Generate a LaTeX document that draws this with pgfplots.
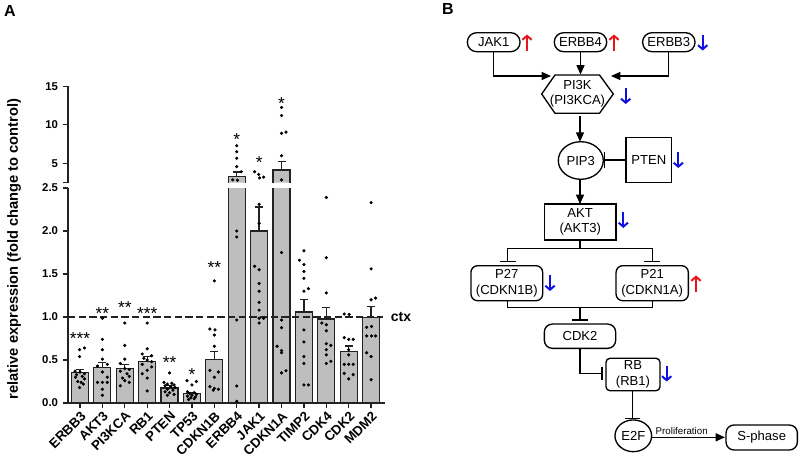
\documentclass[border=0pt]{standalone}
\usepackage{fontspec}
\setmainfont{Liberation Sans}
\usepackage{pgfplots}
\pgfplotsset{compat=1.18}
\usepackage{pgfplotstable}
\usetikzlibrary{arrows.meta,shapes.geometric}
\definecolor{barfill}{HTML}{BEBEBE}
\definecolor{axisgray}{HTML}{222222}
\definecolor{upred}{HTML}{E8141B}
\definecolor{downblue}{HTML}{1010E0}

% bar means and upper SEM
\pgfplotstableread{
x y err
0 0.357 0.035
1 0.415 0.058
2 0.400 0.050
3 0.480 0.058
4 0.174 0.030
5 0.109 0.016
6 0.510 0.090
7 3.320 0.550
8 2.000 0.280
9 4.130 1.070
10 1.058 0.147
11 0.977 0.135
12 0.597 0.065
13 0.996 0.125
}\bars

% single samples
\pgfplotstableread{
x y
-0.02 0.62
0.20 0.64
-0.02 0.54
-0.22 0.37
0.00 0.36
0.20 0.34
-0.15 0.33
0.10 0.31
-0.20 0.30
0.20 0.28
-0.10 0.25
0.05 0.24
-0.02 0.18
0.15 0.22
1.00 0.985
1.00 0.74
1.00 0.62
1.00 0.51
0.78 0.43
1.22 0.45
1.00 0.36
1.22 0.30
0.78 0.24
1.00 0.24
1.22 0.24
1.00 0.16
1.00 0.09
2.00 0.93
2.00 0.67
2.00 0.51
1.80 0.46
2.00 0.40
2.20 0.39
1.80 0.37
2.10 0.34
2.20 0.31
1.90 0.29
2.00 0.26
2.20 0.24
1.80 0.20
3.00 0.93
3.00 0.63
2.78 0.57
3.20 0.55
2.85 0.52
3.00 0.50
3.20 0.48
2.78 0.45
3.20 0.42
3.00 0.38
2.78 0.34
3.00 0.29
3.00 0.14
4.00 0.35
3.75 0.24
4.10 0.23
3.90 0.22
4.20 0.21
3.80 0.20
4.05 0.19
4.25 0.18
3.90 0.16
4.15 0.15
3.80 0.13
4.00 0.12
4.20 0.10
3.90 0.09
4.78 0.26
5.20 0.25
5.00 0.21
4.80 0.13
5.10 0.12
4.90 0.11
5.20 0.10
5.00 0.09
4.80 0.08
5.15 0.07
4.95 0.06
5.10 0.05
4.85 0.04
6.00 1.42
5.80 0.86
6.03 0.85
6.00 0.79
6.00 0.66
5.80 0.38
6.18 0.36
6.00 0.30
5.80 0.19
6.00 0.17
6.18 0.16
5.95 0.15
7.00 7.28
7.00 6.50
7.00 5.65
7.00 4.56
7.20 3.90
6.82 2.85
7.03 2.80
7.00 2.00
7.00 1.93
7.00 0.965
7.00 0.198
7.00 0.02
7.80 3.90
7.98 3.55
8.02 3.10
8.20 3.20
8.00 2.31
8.00 2.09
7.80 1.59
8.00 1.55
8.00 1.39
8.00 1.30
8.00 1.17
8.00 1.08
8.00 0.985
8.20 0.985
8.00 0.93
9.00 12.25
9.00 11.20
9.20 9.05
9.00 8.89
9.00 5.98
9.00 2.84
9.00 1.75
9.00 0.965
9.00 0.876
8.80 0.66
9.00 0.61
9.00 0.585
9.00 0.35
9.20 0.375
10.00 1.77
9.80 1.66
10.00 1.61
10.00 1.53
10.00 1.45
10.00 1.30
10.20 1.33
10.00 0.85
10.00 0.71
10.00 0.54
10.00 0.46
10.00 0.21
10.20 0.21
11.00 2.39
11.00 1.69
11.00 1.28
10.80 0.93
11.00 0.91
11.00 0.84
11.00 0.69
11.20 0.67
11.00 0.62
11.00 0.56
11.20 0.485
11.00 0.46
11.80 1.035
12.02 1.03
11.80 0.76
12.00 0.74
12.20 0.74
12.00 0.62
12.00 0.56
11.80 0.45
12.00 0.45
12.20 0.45
11.80 0.345
12.20 0.33
12.00 0.28
13.00 2.33
13.00 1.56
13.00 1.20
13.20 1.22
12.80 0.88
13.02 0.89
12.80 0.78
13.02 0.78
13.20 0.78
12.80 0.585
13.00 0.54
13.00 0.27
}\pts

\tikzset{starnode/.style={font=\fontsize{13}{13}\selectfont, inner sep=0pt}}
\pgfplotsset{
  barpanel/.style={
    scale only axis, width=237.75pt,
    xmin=-0.536, xmax=13.62,
    axis y line*=left,
    tick align=outside,
    every tick/.style={axisgray, line width=1pt},
    axis line style={axisgray, line width=1.1pt},
    major tick length=4pt,
    tick label style={font=\bfseries\fontsize{8.5}{9}\selectfont},
    /pgf/number format/assume math mode=true,
    clip mode=individual,
  },
  errs/.style={draw=none, mark=none, forget plot,
    error bars/.cd, y dir=plus, y explicit,
    error bar style={draw=axisgray, line width=1pt, solid},
    error mark options={rotate=90, mark size=3pt, line width=1pt, draw=axisgray}},
}
\newcommand\upar[2]{\draw[upred, line width=1.5pt, -{Straight Barb[length=3pt,width=7pt]}] (#1,#2+8) -- (#1,#2-8);}
\newcommand\downar[2]{\draw[downblue, line width=1.5pt, -{Straight Barb[length=3pt,width=7pt]}] (#1,#2-8) -- (#1,#2+8);}

\begin{document}
\begin{tikzpicture}
% ---- panel A, lower part 0-2.5
\begin{axis}[barpanel,
  at={(51pt,-302.25pt)}, anchor=south west, height=161.25pt,
  ymin=0, ymax=2.5,
  axis x line*=bottom,
  ytick={0,0.5,...,2.5},
  yticklabel style={/pgf/number format/.cd, fixed, fixed zerofill, precision=1},
  xtick={0,...,13},
  xticklabels={ERBB3,AKT3,PI3KCA,RB1,PTEN,TP53,CDKN1B,ERBB4,JAK1,CDKN1A,TIMP2,CDK4,CDK2,MDM2},
  x tick label style={rotate=45, anchor=north east, inner sep=1pt, font=\bfseries\fontsize{10}{11}\selectfont},
]
\addplot[ybar, bar width=0.759, fill=barfill, draw=axisgray, line width=0.9pt] table[x=x,y=y] {\bars};
\addplot[errs] table[x=x, y=y, y error=err] {\bars};
\addplot[axisgray, line width=1.1pt, dash pattern=on 5.5pt off 2.5pt] coordinates {(-0.536,1) (13.53,1)};
\addplot[only marks, mark=*, mark size=1pt, black] table[x=x,y=y] {\pts};
\node[starnode] at (axis cs:0,0.745) {***};
\node[starnode] at (axis cs:1,1.035) {**};
\node[starnode] at (axis cs:2,1.105) {**};
\node[starnode] at (axis cs:3,1.035) {***};
\node[starnode] at (axis cs:4,0.475) {**};
\node[starnode] at (axis cs:5,0.335) {*};
\node[starnode] at (axis cs:6,1.575) {**};
\end{axis}
% ---- panel A, upper part 2.5-15
\begin{axis}[barpanel,
  at={(51pt,-136.875pt)}, anchor=south west, height=72.15pt,
  ymin=2.5, ymax=15,
  axis x line=none,
  ytick={2.5,5,10,15}, yticklabels={,5,10,15},
]
\addplot[ybar, bar width=0.759, fill=barfill, draw=none, restrict y to domain=2.5:100] table[x=x,y=y] {\bars};
% outlines of the two bars that pass the axis break (no bottom edge)
\addplot[axisgray, line width=0.9pt] coordinates {(6.62,2.3) (6.62,3.32) (7.38,3.32) (7.38,2.3)};
\addplot[axisgray, line width=0.9pt] coordinates {(8.62,2.3) (8.62,4.13) (9.38,4.13) (9.38,2.3)};
\addplot[restrict y to domain=2.5:100, errs] table[x=x, y=y, y error=err] {\bars};
\addplot[only marks, mark=*, mark size=1pt, black, restrict y to domain=2.5:100] table[x=x,y=y] {\pts};
\node[starnode] at (axis cs:7,8.04) {*};
\node[starnode] at (axis cs:8,5.06) {*};
\node[starnode] at (axis cs:9,12.7) {*};
\end{axis}

\begin{scope}[x=0.75pt, y=-0.75pt]
\path[use as bounding box] (0,0) rectangle (800,455);
\node[font=\bfseries\fontsize{12}{12}\selectfont] at (10,11) {A};
\node[font=\bfseries\fontsize{12}{12}\selectfont] at (448,9) {B};
\node[rotate=90, font=\bfseries\fontsize{11}{12}\selectfont] at (14,249) {relative expression (fold change to control)};
\node[font=\bfseries\fontsize{10.5}{11}\selectfont] at (401,317) {ctx};

% ---- panel B
\begin{scope}[font=\fontsize{9.8}{11.6}\selectfont, line width=1pt,
  box/.style={draw, inner sep=0pt, align=center},
  act/.style={-{Triangle[length=7pt,width=6pt]}},
  inh/.style={-{Bar[width=12pt]}}]
\node[box, rounded corners=7pt, minimum width=39.5pt, minimum height=14.25pt] at (493.7,42.2) {JAK1};
\node[box, rounded corners=7pt, minimum width=39.3pt, minimum height=14.25pt] at (580.5,42.2) {ERBB4};
\node[box, rounded corners=7pt, minimum width=39.3pt, minimum height=14.25pt] at (668.8,42.2) {ERBB3};
\draw (541.7,94) -- (555,75) -- (599.5,75) -- (613.3,94) -- (599.5,113.3) -- (555,113.3) -- cycle;
\node[align=center, inner sep=0pt] at (577.5,94) {PI3K\\(PI3KCA)};
\node[box, ellipse, minimum width=33.75pt, minimum height=28.2pt] (pip) at (580.8,160.5) {PIP3};
\node[box, minimum width=34.3pt, minimum height=34pt] at (648.8,160) {PTEN};
\node[box, minimum width=53.8pt, minimum height=27pt] at (580.2,222) {AKT\\(AKT3)};
\node[box, rounded corners=5pt, minimum width=53.8pt, minimum height=26.25pt] at (506.8,283.2) {P27\\(CDKN1B)};
\node[box, rounded corners=5pt, minimum width=54.2pt, minimum height=26.25pt] at (652.2,283.2) {P21\\(CDKN1A)};
\node[box, rounded corners=6pt, minimum width=53.5pt, minimum height=18.2pt] at (580,336.2) {CDK2};
\node[box, rounded corners=3pt, minimum width=40.5pt, minimum height=24.3pt] at (633,374.5) {RB\\(RB1)};
\node[box, ellipse, minimum width=27.5pt, minimum height=23.8pt] at (633.3,435.8) {E2F};
\node[box, rounded corners=6pt, minimum width=53.5pt, minimum height=18.75pt] at (761.7,437.5) {S-phase};

\draw[act] (493.3,51.7) -- (493.3,76) -- (551,76);
\draw[act] (580.5,51.7) -- (580.5,74.5);
\draw[act] (668.8,51.7) -- (668.8,76) -- (611,76);
\draw[act] (580,116) -- (580,141.7);
\draw[inh] (626,160) -- (604,160);
\draw[act] (580,179.3) -- (580,204);
\draw (580,240) -- (580,248.3);
\draw (507.7,248.3) -- (652.3,248.3);
\draw[inh] (507.7,248.3) -- (507.7,262);
\draw[inh] (652.3,248.3) -- (652.3,262);
\draw (507.7,300.7) -- (507.7,307.3) -- (652.3,307.3) -- (652.3,300.7);
\draw[inh] (580,307.3) -- (580,320.5);
\draw[-{Bar[width=10pt]}] (580,348.3) -- (580,373.3) -- (602.5,373.3);
\draw[-{Bar[width=11pt]}] (632.7,390.7) -- (632.7,419);
\draw[act] (651.7,437.3) -- (725,437.3);
\node[font=\fontsize{7.3}{8}\selectfont, inner sep=0pt] at (681.7,431) {Proliferation};

\upar{527}{42.5}
\upar{614}{42.5}
\downar{702.7}{42.5}
\downar{625.7}{96}
\downar{678.3}{160}
\downar{623.3}{220}
\downar{550}{283}
\upar{696}{283.5}
\downar{666.7}{373.5}
\end{scope}
\end{scope}
\end{tikzpicture}
\end{document}
